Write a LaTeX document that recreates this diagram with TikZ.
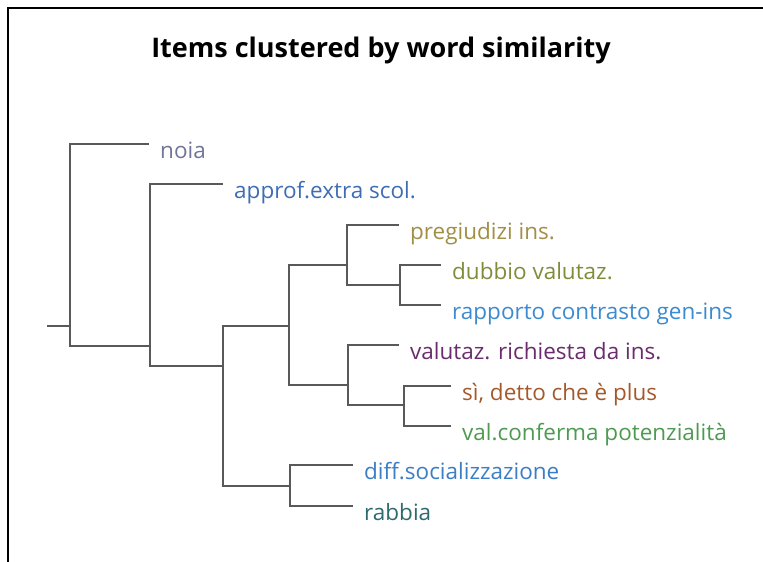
\documentclass[tikz,border=0pt]{standalone}
\usepackage{fontspec}
\setmainfont{Open Sans}
\begin{document}
\begin{tikzpicture}[x=1pt,y=-1pt,
  branch/.style={draw=black!65, line width=2.8pt, line cap=rect},
  leaf/.style={anchor=mid west, inner sep=0pt, font=\fontsize{22.5}{26}\selectfont},
  frame/.style={draw=black, line width=2pt}]
\definecolor{cNoia}{HTML}{72759A}
\definecolor{cApprof}{HTML}{3D6EB4}
\definecolor{cPreg}{HTML}{A08F45}
\definecolor{cDubbio}{HTML}{7F8D3A}
\definecolor{cRapp}{HTML}{3C8AD0}
\definecolor{cValut}{HTML}{6A2C6E}
\definecolor{cSi}{HTML}{A5592B}
\definecolor{cValConf}{HTML}{4F9A52}
\definecolor{cDiff}{HTML}{3C7EC6}
\definecolor{cRabbia}{HTML}{2D6B6E}

\useasboundingbox (0,0) rectangle (763,562);
\fill[white] (0,0) rectangle (763,562);
\draw[frame] (7.5,562) -- (7.5,7.5) -- (763,7.5);

\node[font=\fontsize{27}{30}\selectfont\bfseries] (title) at (381,50) {Items clustered by word similarity};

% leaf tips (ends of the horizontal branches)
\coordinate (tNoia)   at (148,144);
\coordinate (tApprof) at (222,184);
\coordinate (tPreg)   at (398,225);
\coordinate (tDubbio) at (440,265);
\coordinate (tRapp)   at (440,305);
\coordinate (tValut)  at (398,345);
\coordinate (tSi)     at (450,386);
\coordinate (tValC)   at (450,426);
\coordinate (tDiff)   at (352,465);
\coordinate (tRabbia) at (352,506);

% leaf labels
\node[leaf, text=cNoia]    (nNoia)   at ([shift={(12,12)}]tNoia)   {noia};
\node[leaf, text=cApprof]  (nApprof) at ([shift={(12,12)}]tApprof) {approf.extra scol.};
\node[leaf, text=cPreg]    (nPreg)   at ([shift={(12,12)}]tPreg)   {pregiudizi ins.};
\node[leaf, text=cDubbio]  (nDubbio) at ([shift={(12,12)}]tDubbio) {dubbio valutaz.};
\node[leaf, text=cRapp]    (nRapp)   at ([shift={(12,12)}]tRapp)   {rapporto contrasto gen-ins};
\node[leaf, text=cValut]   (nValut)  at ([shift={(12,12)}]tValut)  {valutaz. richiesta da ins.};
\node[leaf, text=cSi]      (nSi)     at ([shift={(12,12)}]tSi)     {sì, detto che è plus};
\node[leaf, text=cValConf] (nValC)   at ([shift={(12,12)}]tValC)   {val.conferma potenzialità};
\node[leaf, text=cDiff]    (nDiff)   at ([shift={(12,12)}]tDiff)   {diff.socializzazione};
\node[leaf, text=cRabbia]  (nRabbia) at ([shift={(12,12)}]tRabbia) {rabbia};

% merge points
\coordinate (stub) at (48,326);
\coordinate (jR) at (70,326);
\coordinate (jB) at (150,346);
\coordinate (jC) at (223,366);
\coordinate (jD) at (289,326);
\coordinate (jE) at (347,265);
\coordinate (jF) at (400,285);
\coordinate (jG) at (348,385);
\coordinate (jH) at (404,405);
\coordinate (jI) at (290,486);

% dendrogram branches
\draw[branch] (stub) -- (jR);
\draw[branch] (tNoia) -| (jR) |- (jB);
\draw[branch] (tApprof) -| (jB) |- (jC);
\draw[branch] (jD) -| (jC) |- (jI);
\draw[branch] (jE) -| (jD) |- (jG);
\draw[branch] (tPreg) -| (jE) |- (jF);
\draw[branch] (tDubbio) -| (jF) |- (tRapp);
\draw[branch] (tValut) -| (jG) |- (jH);
\draw[branch] (tSi) -| (jH) |- (tValC);
\draw[branch] (tDiff) -| (jI) |- (tRabbia);
\end{tikzpicture}
\end{document}
